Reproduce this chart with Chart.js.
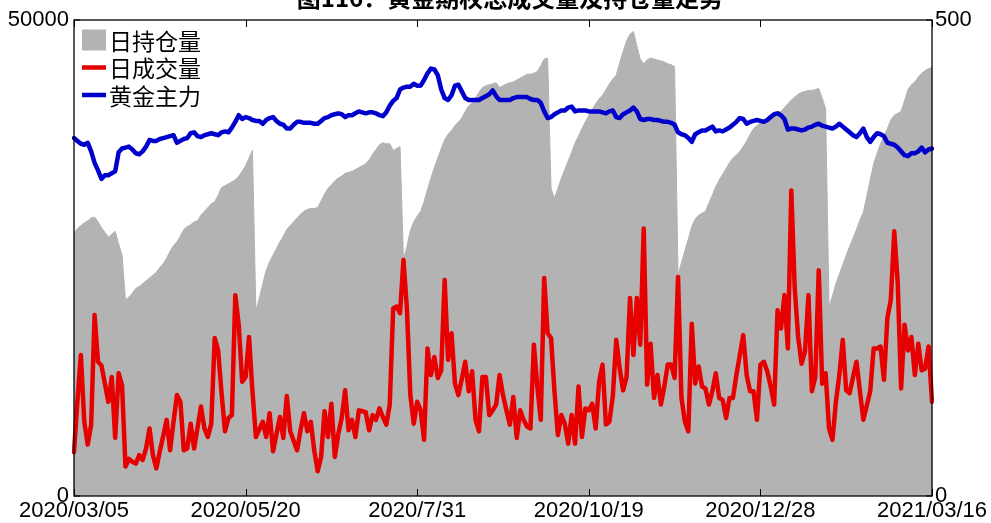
<!DOCTYPE html>
<html>
<head>
<meta charset="utf-8">
<script src="https://cdn.jsdelivr.net/npm/chart.js@4.4.1/dist/chart.umd.min.js"></script>
<style>
  html, body { margin: 0; padding: 0; background: #fff; overflow: hidden; }
  #wrap { position: relative; width: 991px; height: 523px; overflow: hidden; }
  #c { position: absolute; left: 0; top: 0; }
  #title {
    position: absolute; left: 210px; width: 600px; top: -21px; line-height: 28px;
    text-align: center; white-space: nowrap; color: #000;
    font: bold 24px "Noto Sans CJK SC", sans-serif;
  }
</style>
</head>
<body>
<div id="wrap">
  <canvas id="c" width="991" height="523"></canvas>
  <div id="title">图116：黄金期权总成交量及持仓量走势</div>
</div>
<script>
// Tick labels shown along the date axis, one every TICK_STEP trading days
const tickLabels = ['2020/03/05', '2020/05/20', '2020/7/31', '2020/10/19', '2020/12/28', '2021/03/16'];
const TICK_STEP = 50;

// 日持仓量 (left axis)
const openInterest = [
  27600,28100,28400,28700,28900,29200,29300,28800,28200,27700,
  27200,27500,27800,26500,25300,20600,20900,21300,21800,22000,
  22300,22600,22900,23200,23500,24000,24400,25000,25700,26300,
  26700,27300,28000,28300,28500,28800,28900,29500,29900,30300,
  30700,30900,31600,32400,32600,32800,33000,33200,33600,34100,
  34700,35500,36300,19400,20800,22300,23700,24600,25300,26000,
  26700,27300,28000,28400,28800,29200,29600,29900,30100,30200,
  30200,30300,31000,31700,32300,32700,33100,33400,33600,33900,
  34000,34100,34300,34500,34700,34900,35300,35900,36400,36900,
  37100,37000,37000,36300,36500,36700,24800,26200,27900,28800,
  29400,29900,30900,32200,33400,34500,35500,36500,37400,38000,
  38400,38900,39300,39700,40400,41000,41300,41800,42400,42900,
  43100,43200,43300,43400,42900,43100,43300,43400,43500,43700,
  43900,44100,44300,44300,44400,44600,45200,45900,46000,32300,
  31300,32300,33400,34300,35200,36100,37100,37800,38600,39300,
  40000,40600,41200,41700,42100,42700,43300,43800,44200,45500,
  46700,47800,48500,48800,47300,45900,45400,45800,46000,45900,
  45800,45700,45600,45400,45300,45100,23200,24500,25800,27000,
  28300,29100,29500,29700,29900,30800,31600,32500,33200,33800,
  34400,35000,35500,35800,36200,36700,37300,38000,38600,38900,
  39200,39500,39700,39900,40100,40300,40400,40800,41200,41600,
  41900,42200,42400,42500,42600,42600,42700,42800,41800,40700,
  19900,21000,22300,23300,24300,25300,26200,27100,28000,29000,
  29800,31500,33200,34900,36000,37000,37800,38600,39500,40000,
  40200,40400,41500,42700,43200,43500,44000,44400,44700,44900,
  45000
];

// 日成交量 (left axis)
const volume = [
  4600,10000,14800,7800,5400,7500,19000,14100,13700,11800,
  9900,12500,6100,12900,11600,3100,3900,3600,3400,4300,
  3800,5000,7100,4300,2900,4700,6300,8000,4800,7800,
  10600,9900,4800,5000,7600,5000,7200,9400,7100,6200,
  7600,16600,15300,10800,6800,8200,8500,21100,18000,12000,
  12500,16700,11000,6200,7000,7800,6200,8700,4700,6500,
  8300,6100,10500,6800,5800,4800,6900,8700,6800,7800,
  4800,2600,4100,8900,6200,9700,4100,6500,8200,11100,
  6900,8000,6200,9000,8900,8800,6900,8500,8000,9200,
  8300,7500,9600,19700,19900,19200,24800,19700,10600,7600,
  9900,9000,5900,15500,12700,14600,12400,13200,22700,14300,
  17100,11800,10600,12300,14100,11000,13100,8000,6800,12500,
  12500,8500,9000,9600,12700,10600,9000,7500,10400,6100,
  9000,8000,7300,7100,15900,11500,8000,22900,17100,16600,
  11000,6400,8500,7600,5500,8500,5500,11500,6200,9200,
  9000,9700,7100,12000,13800,7500,7800,10500,16400,13400,
  11100,12500,20800,14800,20800,15900,28100,11700,16000,10300,
  12700,9600,11500,13800,13800,12400,23000,10300,7800,6800,
  18100,11800,13600,11500,11300,9600,11000,12900,10300,10100,
  8200,10300,10300,12700,14800,16900,12700,11000,11000,8000,
  13800,14100,13100,11500,9600,19500,17600,21100,15500,32100,
  21800,16700,13900,15200,21100,11000,12500,23700,11800,12900,
  7100,5900,9900,12700,16400,11100,10800,12500,14100,11000,
  8000,9500,11000,15500,15500,15700,12200,18700,20600,27800,
  22500,11300,18000,15300,16700,12700,16000,13200,13400,15700,
  9900
];

// 黄金主力 (right axis)
const goldPrice = [
  376,373,370,369,371,362,350,342,333,337,
  337,339,341,361,365,366,367,364,360,359,
  362,367,374,373,373,375,376,377,378,379,
  371,373,375,376,381,382,378,377,379,380,
  381,380,379,382,383,382,387,393,400,396,
  398,397,395,394,394,391,395,397,398,394,
  391,390,386,386,390,393,393,392,392,392,
  391,391,394,397,398,400,401,402,401,398,
  400,400,402,404,403,402,403,403,402,400,
  399,403,410,415,418,427,429,430,430,433,
  431,431,437,444,449,448,442,427,418,416,
  421,431,432,425,418,416,416,416,416,418,
  420,422,426,420,416,416,416,416,418,419,
  419,419,419,417,416,416,413,404,397,398,
  401,403,405,405,408,409,404,405,405,405,
  404,404,404,404,403,402,404,405,398,397,
  401,403,405,408,404,396,395,396,396,395,
  395,394,393,393,392,390,382,380,379,376,
  372,380,382,384,384,386,388,383,384,383,
  385,387,390,393,397,396,391,393,394,395,
  394,393,395,398,401,402,400,396,385,386,
  386,385,384,385,387,388,390,391,389,388,
  387,386,388,391,388,385,382,379,377,381,
  386,377,372,377,381,380,378,371,370,369,
  366,362,358,357,360,360,362,366,361,364,
  365
];

const categories = openInterest.map((_, i) => i);
const tickFont = { family: '"Liberation Sans", Arial, sans-serif', size: 22 };

// Frame around the plot area with short inward tick marks
const framePlugin = {
  id: 'frame',
  afterDatasetsDraw(chart) {
    const { ctx, chartArea: a, scales } = chart;
    ctx.save();
    ctx.strokeStyle = '#000';
    ctx.lineWidth = 1.3;
    ctx.strokeRect(a.left, a.top, a.right - a.left, a.bottom - a.top);
    ctx.lineWidth = 1;
    ctx.beginPath();
    categories.forEach((c, i) => {
      if (i % TICK_STEP !== 0) return;
      const x = Math.round(scales.x.getPixelForValue(i)) + 0.5;
      ctx.moveTo(x, a.bottom); ctx.lineTo(x, a.bottom - 7);
      ctx.moveTo(x, a.top); ctx.lineTo(x, a.top + 7);
    });
    [a.top, a.bottom].forEach(y => {
      ctx.moveTo(a.left, y); ctx.lineTo(a.left + 6, y);
      ctx.moveTo(a.right, y); ctx.lineTo(a.right - 6, y);
    });
    ctx.stroke();
    ctx.restore();
  }
};

// Legend in the upper-left corner of the plot area
const cornerLegend = {
  id: 'cornerLegend',
  afterDatasetsDraw(chart) {
    const { ctx, chartArea: a } = chart;
    const x0 = a.left + 8, y0 = a.top + 20, rowH = 27.5;
    ctx.save();
    ctx.font = '23px "Noto Sans CJK SC", sans-serif';
    ctx.textBaseline = 'middle';
    ctx.textAlign = 'left';
    chart.data.datasets.forEach((ds, i) => {
      const cy = y0 + i * rowH;
      if (ds.fill) {
        ctx.fillStyle = ds.backgroundColor;
        ctx.fillRect(x0, cy - 10.5, 24, 21);
      } else {
        ctx.strokeStyle = ds.borderColor;
        ctx.lineWidth = 4.5;
        ctx.beginPath();
        ctx.moveTo(x0, cy); ctx.lineTo(x0 + 24, cy);
        ctx.stroke();
      }
      ctx.fillStyle = '#000';
      ctx.fillText(ds.label, x0 + 27, cy + 1);
    });
    ctx.restore();
  }
};

// Plain integer tick text (no thousands separator)
const plainTick = v => String(v);

new Chart(document.getElementById('c'), {
  type: 'line',
  data: {
    labels: categories,
    datasets: [
      {
        label: '日持仓量', data: openInterest, yAxisID: 'y', order: 3,
        fill: 'origin', backgroundColor: '#b3b3b3',
        borderColor: '#b3b3b3', borderWidth: 1, pointRadius: 0, tension: 0
      },
      {
        label: '日成交量', data: volume, yAxisID: 'y', order: 2,
        fill: false, borderColor: '#e60000', borderWidth: 4.5,
        borderJoinStyle: 'round', borderCapStyle: 'round', pointRadius: 0, tension: 0
      },
      {
        label: '黄金主力', data: goldPrice, yAxisID: 'y2', order: 1,
        fill: false, borderColor: '#0000cc', borderWidth: 4.5,
        borderJoinStyle: 'round', borderCapStyle: 'round', pointRadius: 0, tension: 0
      }
    ]
  },
  options: {
    responsive: false,
    devicePixelRatio: 1,
    animation: false,
    events: [],
    layout: { padding: { top: 20, left: 0, right: 0, bottom: 0 } },
    plugins: { legend: { display: false }, tooltip: { enabled: false }, title: { display: false } },
    scales: {
      x: {
        type: 'category',
        offset: false,
        grid: { display: false, drawTicks: false },
        border: { display: false },
        ticks: {
          autoSkip: false, maxRotation: 0, minRotation: 0, padding: 2,
          color: '#000', font: tickFont,
          callback: (v, i) => (i % TICK_STEP === 0 ? tickLabels[i / TICK_STEP] : null)
        },
        afterFit: s => { s.height = 27; }
      },
      y: {
        position: 'left', min: 0, max: 50000,
        grid: { display: false, drawTicks: false },
        border: { display: false },
        ticks: { stepSize: 50000, padding: 5, color: '#000', font: tickFont, callback: plainTick },
        afterFit: s => { s.width = 74; }
      },
      y2: {
        position: 'right', min: 0, max: 500,
        grid: { display: false, drawTicks: false },
        border: { display: false },
        ticks: { stepSize: 500, padding: 3, color: '#000', font: tickFont, callback: plainTick },
        afterFit: s => { s.width = 59; }
      }
    }
  },
  plugins: [framePlugin, cornerLegend]
});
</script>
</body>
</html>
